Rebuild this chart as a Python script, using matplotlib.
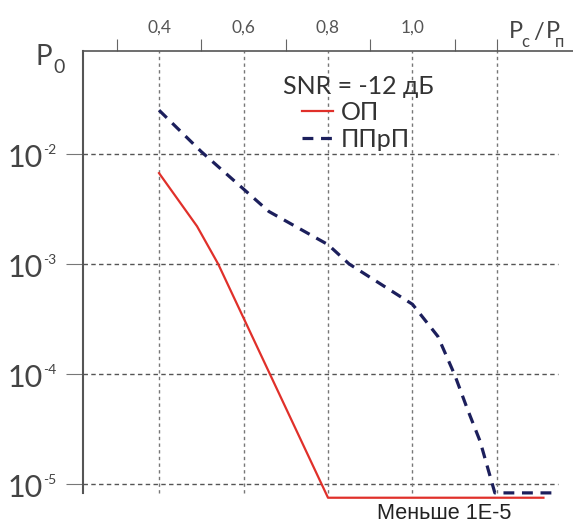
import numpy as np
import matplotlib
matplotlib.use('Agg')
import matplotlib.pyplot as plt

plt.rcParams['font.family'] = ['Lato', 'DejaVu Sans']

# вероятность ошибки P0 от отношения Pc/Pп, SNR = -12 дБ
x_op = [0.40, 0.49, 0.54, 0.80, 1.31]
p_op = [6.7e-3, 2.2e-3, 1.0e-3, 7.5e-6, 7.5e-6]

x_pprp = [0.40, 0.50, 0.60, 0.66, 0.80, 0.85, 1.00, 1.06, 1.10, 1.13, 1.16, 1.195, 1.34]
p_pprp = [2.5e-2, 1.05e-2, 4.8e-3, 3.0e-3, 1.5e-3, 1.0e-3, 4.3e-4, 2.2e-4,
          9.8e-5, 4.8e-5, 2.45e-5, 8.3e-6, 8.3e-6]

x_major = [0.4, 0.6, 0.8, 1.0]
x_labels = ['0,4', '0,6', '0,8', '1,0']
x_minor = [0.3, 0.5, 0.7, 0.9, 1.1, 1.2]
x_grid = [0.4, 0.6, 0.8, 1.0, 1.2]
y_decades = [-2, -3, -4, -5]

W, H = 573, 519
fx = lambda px: px / W
fy = lambda py: 1 - py / H

fig = plt.figure(figsize=(W / 100, H / 100), dpi=100)
ax = fig.add_axes([fx(83), fy(505), fx(573) - fx(83), fy(51) - fy(505)])
ax.set_yscale('log')
ax.set_xlim(0.22, 1.38)
ax.set_ylim(10 ** -5.191, 10 ** -1.064)

gcol = '#555555'
for d in y_decades:
    ax.axhline(10.0 ** d, xmin=0, xmax=0.969, color=gcol, lw=1.0,
               ls=(0, (3.2, 2.4)), zorder=1)
for xv in x_grid:
    ax.axvline(xv, ymin=12 / 454, ymax=1, color='#777777', lw=1.0,
               ls=(0, (2.4, 2.4)), zorder=1)

ax.plot(x_op, p_op, color='#e0302a', lw=1.6, zorder=3, label='ОП')
ax.plot(x_pprp, p_pprp, color='#1c1f5c', lw=2.3, dashes=(3.4, 2.4),
        zorder=3, label='ППрП')

for s in ['right', 'bottom']:
    ax.spines[s].set_visible(False)
ax.spines['top'].set_color('#555555')
ax.spines['top'].set_linewidth(1.2)
ax.spines['left'].set_color('#555555')
ax.spines['left'].set_linewidth(1.5)
ax.spines['left'].set_bounds(10 ** -5.082, 10 ** -1.064)

ax.xaxis.tick_top()
ax.set_xticks(x_major)
ax.set_xticklabels(x_labels)
ax.set_xticks(x_minor, minor=True)
ax.tick_params(axis='x', which='major', length=0, pad=11, labelsize=12.5,
               labelcolor='#555555')
ax.tick_params(axis='x', which='minor', length=8.6, width=0.8, color='#666666',
               direction='out')

ax.set_yticks([10.0 ** d for d in y_decades])
ax.set_yticks([], minor=True)
ax.tick_params(axis='y', which='major', length=12.2, width=0.8, color='#777777',
               direction='out', labelleft=False)

# подписи декад: "10" и показатель степени отдельно
for d in y_decades:
    ax.annotate('10', xy=(0, 10.0 ** d), xycoords=('axes fraction', 'data'),
                xytext=(-28.8, -2.9), textcoords='offset points',
                ha='right', va='center', fontsize=22, color='#444444')
    ax.annotate(str(d), xy=(0, 10.0 ** d), xycoords=('axes fraction', 'data'),
                xytext=(-28.4, 2.6), textcoords='offset points',
                ha='left', va='center', fontsize=10, color='#444444')

# подписи осей
fig.text(fx(35), fy(57), 'P', fontsize=20, color='#444444', ha='left', va='center')
fig.text(fx(53), fy(67), '0', fontsize=14, color='#444444', ha='left', va='center')
fig.text(fx(509), fy(31), 'P', fontsize=17, color='#444444', ha='left', va='center')
fig.text(fx(521), fy(42), 'c', fontsize=12, color='#444444', ha='left', va='center')
fig.text(fx(533), fy(33), '/', fontsize=17, color='#444444', ha='left', va='center')
fig.text(fx(546), fy(31), 'P', fontsize=17, color='#444444', ha='left', va='center')
fig.text(fx(555), fy(42), 'п', fontsize=12, color='#444444', ha='left', va='center')

fig.text(fx(283), fy(87), 'SNR = -12 дБ', fontsize=18, color='#333333',
         ha='left', va='center')
ax.legend(loc='upper left', bbox_to_anchor=(fx(302), fy(101)),
          bbox_transform=fig.transFigure, frameon=False, fontsize=18,
          handlelength=1.25, handletextpad=0.3, labelspacing=0.15, borderpad=0,
          borderaxespad=0, labelcolor='#333333')

ax.text(1.075, 10 ** -5.17, 'Меньше 1E-5', family='Liberation Sans',
        fontsize=15.6, color='#222222', ha='center', va='top', clip_on=False)

fig.savefig('out.png', dpi=100)
